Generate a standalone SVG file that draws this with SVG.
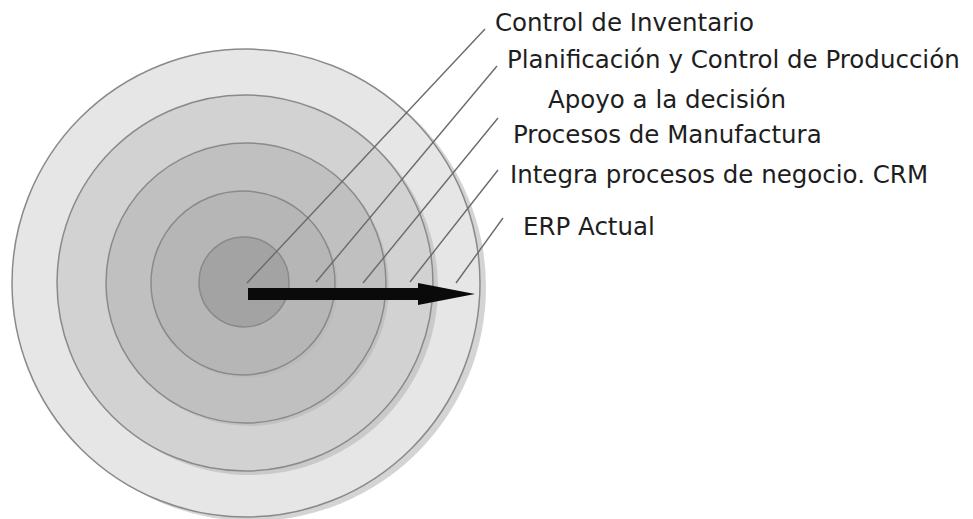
<svg xmlns="http://www.w3.org/2000/svg" width="973" height="519" viewBox="0 0 973 519">
  <style>
    .ring { stroke: #8a8a8a; stroke-width: 1.5; }
    .shadow { fill: #b8b8b8; opacity: 0.6; }
    .lbl { font-family: "DejaVu Sans", Verdana, sans-serif; font-size: 24.5px; fill: #1e1e1e; }
    .lead { stroke: #6a6a6a; stroke-width: 1.4; fill: none; }
  </style>
  <rect width="973" height="519" fill="#ffffff"/>
  <g id="ring-erp">
    <circle class="shadow" cx="252" cy="287" r="234"/>
    <circle class="ring" cx="246" cy="283" r="234" fill="#e6e6e6"/>
  </g>
  <g id="ring-crm">
    <circle class="shadow" cx="250" cy="287" r="188"/>
    <circle class="ring" cx="245" cy="283" r="188" fill="#d2d2d2"/>
  </g>
  <g id="ring-manufactura">
    <circle class="shadow" cx="249" cy="286" r="140"/>
    <circle class="ring" cx="246" cy="283" r="140" fill="#c0c0c0"/>
  </g>
  <g id="ring-planificacion">
    <circle class="shadow" cx="246" cy="286" r="92"/>
    <circle class="ring" cx="243" cy="283" r="92" fill="#b6b6b6"/>
  </g>
  <g id="ring-inventario">
    <circle class="shadow" cx="247" cy="285" r="45"/>
    <circle class="ring" cx="244" cy="282" r="45" fill="#a3a3a3"/>
  </g>
  <g id="connectors">
    <line class="lead" x1="247" y1="283" x2="485" y2="29"/>
    <line class="lead" x1="316" y1="282" x2="497" y2="66"/>
    <line class="lead" x1="363" y1="283" x2="498" y2="118"/>
    <line class="lead" x1="410" y1="282" x2="498" y2="170"/>
    <line class="lead" x1="456" y1="283" x2="503" y2="218"/>
    <g id="arrow" fill="#0a0a0a">
      <rect x="248" y="288" width="173" height="12"/>
      <polygon points="418,283 475,294 418,305"/>
    </g>
  </g>
  <g id="label-inventario"><text class="lbl" x="495" y="31">Control de Inventario</text></g>
  <g id="label-planificacion"><text class="lbl" x="507" y="68">Planificación y Control de Producción</text></g>
  <g id="label-apoyo"><text class="lbl" x="548" y="108">Apoyo a la decisión</text></g>
  <g id="label-manufactura"><text class="lbl" x="513" y="143">Procesos de Manufactura</text></g>
  <g id="label-crm"><text class="lbl" x="510" y="183">Integra procesos de negocio. CRM</text></g>
  <g id="label-erp"><text class="lbl" x="523" y="235">ERP Actual</text></g>
</svg>
